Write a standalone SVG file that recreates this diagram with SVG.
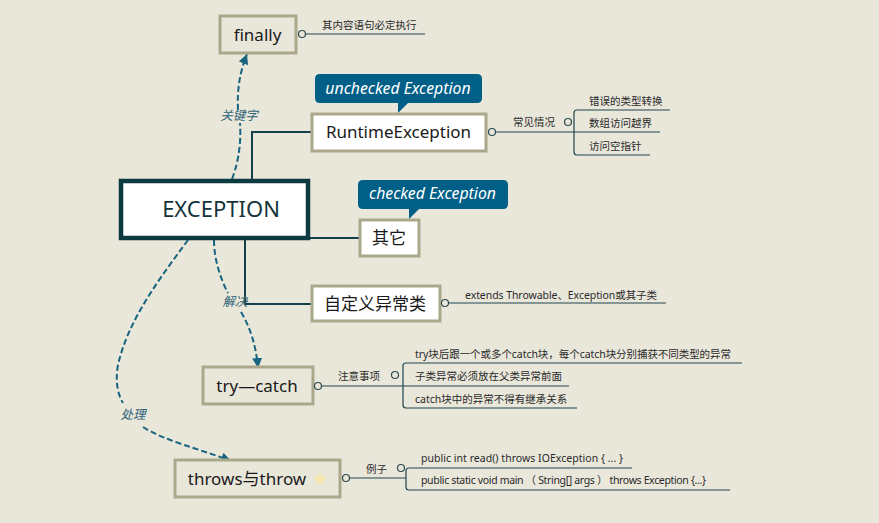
<svg xmlns="http://www.w3.org/2000/svg" width="879" height="523" viewBox="0 0 879 523">
<style>
text{font-family:"Noto Sans","Noto Sans CJK SC",sans-serif;fill:#1a1a1a}
.box{stroke:#aba78a;stroke-width:3;fill:#e9e6da}
.w{fill:#fff}
.t{font-size:17px;text-anchor:middle}
.s{font-size:10.500px;fill:#2a2a2a}
.line{fill:none;stroke:#20454c;stroke-width:1.2}
.main{fill:none;stroke:#14404a;stroke-width:2}
.dot{fill:#e9e6da;stroke:#2b4a50;stroke-width:1.2}
.dash{fill:none;stroke:#17647f;stroke-width:2;stroke-dasharray:6 3}
.lab{font-size:12.500px;font-style:italic;fill:#2d6478;text-anchor:middle}
.call{fill:#005f86}
.callt{font-size:15.800px;font-style:italic;fill:#fff;text-anchor:middle}
</style>
<defs>
<marker id="arr" markerWidth="12" markerHeight="12" refX="10" refY="5" orient="auto" markerUnits="userSpaceOnUse"><path d="M0,0L10,5L0,10Z" fill="#17647f"/></marker>
</defs>
<rect width="879" height="523" fill="#e9e6da"/>
<g id="connectors">
<path class="main" d="M311,132H252V179"/>
<path class="main" d="M309,238H359"/>
<path class="main" d="M245,239V304H311"/>
<path class="dash" d="M232,179C240,158 241,138 240,123"/>
<path class="dash" marker-end="url(#arr)" d="M238,110C237,88 240,72 247,54"/>
<path class="dash" d="M214,240C214,260 221,280 228,293"/>
<path class="dash" marker-end="url(#arr)" d="M241,312C250,327 256,345 258,368"/>
<path class="dash" d="M188,240C160,278 128,320 118,365C115,382 118,395 123,403"/>
<path class="dash" marker-end="url(#arr)" d="M143,427C165,441 200,449 231,461"/>
</g>
<g id="finally"><rect class="box" x="220" y="16" width="76" height="37"/><text class="t" x="257.500" y="41">finally</text>
<path class="line" d="M306,34H425"/><circle class="dot" cx="302" cy="34" r="3.5"/><text class="s" x="322" y="29">其内容语句必定执行</text></g>
<g id="runtime"><path class="call" d="M320,74H477Q482,74 482,79V98Q482,103 477,103H408L398,113V103H320Q315,103 315,98V79Q315,74 320,74Z"/><text class="callt" x="398" y="94">unchecked Exception</text>
<rect class="box w" x="312" y="114" width="174" height="37"/><text class="t" x="398.500" y="138">RuntimeException</text>
<path class="line" d="M496,132H660"/><circle class="dot" cx="492" cy="132" r="3.5"/>
<text class="s" x="513" y="126">常见情况</text><circle class="dot" cx="568" cy="122" r="3.5"/>
<path class="line" d="M670,110H577Q574,110 574,113V152Q574,155 577,155H650"/>
<text class="s" x="589" y="105">错误的类型转换</text><text class="s" x="589" y="127">数组访问越界</text><text class="s" x="589" y="150">访问空指针</text></g>
<g id="exception"><rect x="121" y="181" width="187" height="57" fill="#fff" stroke="#0c3a40" stroke-width="4.5"/><text x="221" y="217" font-size="22" text-anchor="middle" style="fill:#14343a">EXCEPTION</text></g>
<g id="other"><path class="call" d="M363,180H503Q508,180 508,185V204Q508,209 503,209H419L409,219V209H363Q358,209 358,204V185Q358,180 363,180Z"/><text class="callt" x="432.500" y="199">checked Exception</text>
<rect class="box w" x="360" y="220" width="59" height="36"/><text class="t" x="389" y="244">其它</text></g>
<g id="custom"><rect class="box w" x="312" y="286" width="128" height="35"/><text class="t" x="375" y="310">自定义异常类</text>
<path class="line" d="M449,303H666"/><circle class="dot" cx="445" cy="303" r="3.5"/><text class="s" x="465" y="299" textLength="192">extends Throwable、Exception或其子类</text></g>
<g id="trycatch"><rect class="box" x="203" y="367" width="110" height="37"/><text class="t" x="257" y="392">try—catch</text>
<path class="line" d="M322,386H569"/><circle class="dot" cx="318" cy="386" r="3.5"/>
<text class="s" x="338" y="380">注意事项</text><circle class="dot" cx="395" cy="375" r="3.5"/>
<path class="line" d="M742,363H406Q403,363 403,366V405Q403,408 406,408H577"/>
<text class="s" x="415" y="358" textLength="316">try块后跟一个或多个catch块，每个catch块分别捕获不同类型的异常</text><text class="s" x="415" y="380">子类异常必须放在父类异常前面</text><text class="s" x="415" y="403">catch块中的异常不得有继承关系</text></g>
<g id="throws"><rect class="box" x="175" y="460" width="165" height="37"/><text class="t" x="247" y="485">throws与throw</text>
<path d="M320,472L321.800,476.500L326.500,476.800L323,480L324,484.800L320,482.200L316,484.800L317,480L313.500,476.800L318.200,476.500Z" fill="#f7e7a8"/>
<path class="line" d="M350,478H406"/><circle class="dot" cx="346" cy="478" r="3.5"/>
<text class="s" x="366" y="473">例子</text><circle class="dot" cx="401" cy="468" r="3.5"/>
<path class="line" d="M632,468H409Q406,468 406,471V487Q406,490 409,490H730"/>
<text class="s" x="421" y="462" textLength="202">public int read() throws IOException { ... }</text><text class="s" x="421" y="484" textLength="285">public static void main （ String[] args ） throws Exception {...}</text></g>
<g id="labels"><text class="lab" x="239" y="120">关键字</text><text class="lab" x="235" y="306">解决</text><text class="lab" x="133" y="419">处理</text></g>
</svg>
